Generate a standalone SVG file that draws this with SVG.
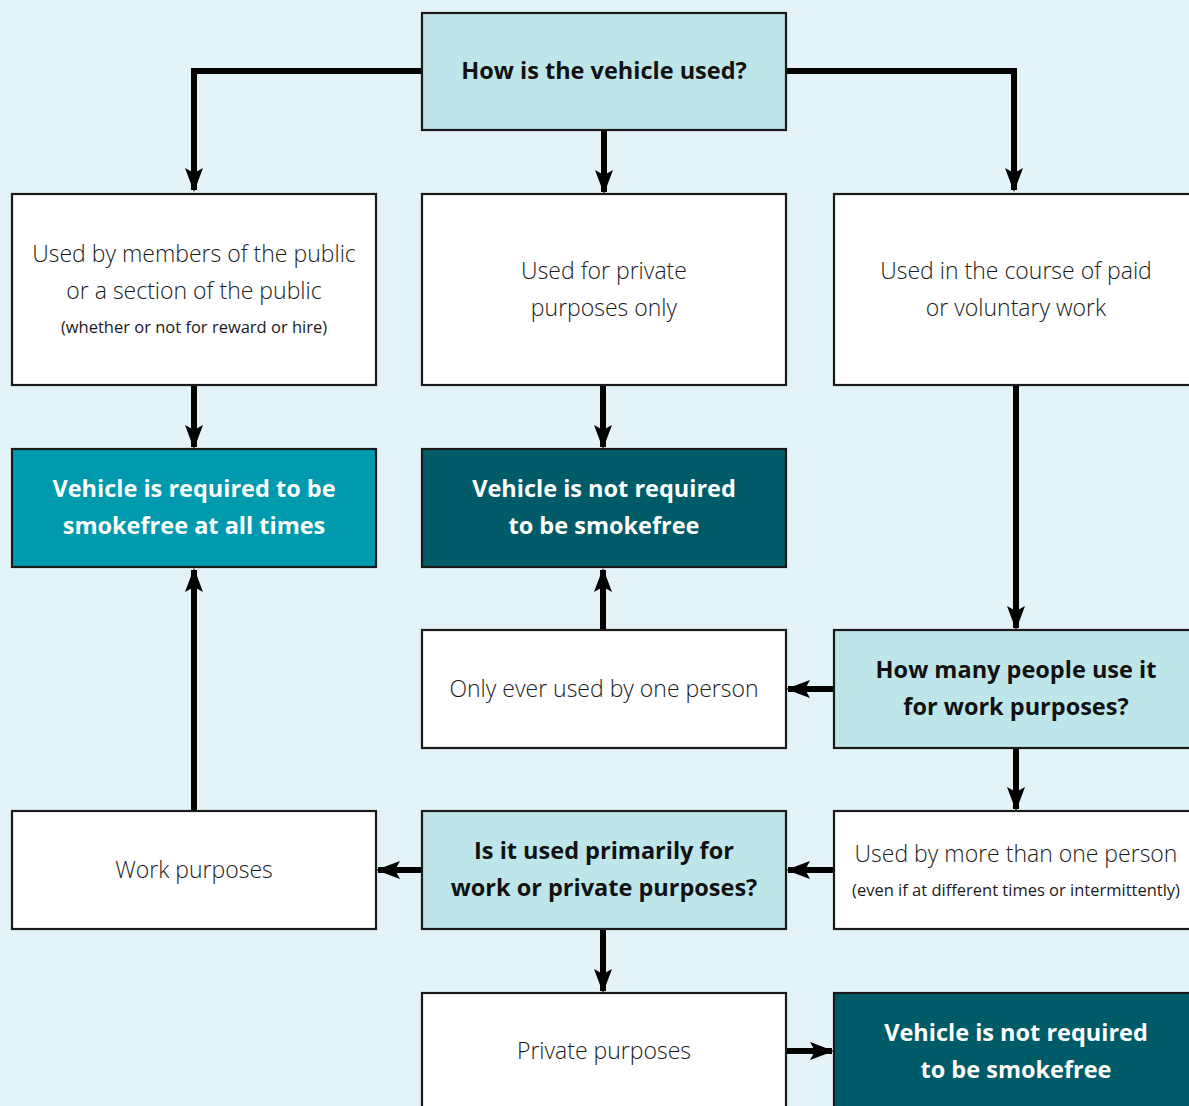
<svg xmlns="http://www.w3.org/2000/svg" width="1189" height="1106" viewBox="0 0 1189 1106">
<defs>
<marker id="ah" markerUnits="userSpaceOnUse" markerWidth="24" markerHeight="20" viewBox="0 0 24 20" refX="22" refY="10" orient="auto">
<path d="M0,1 L24,10 L0,19 L5,10 Z" fill="#000"/>
</marker>
<style>
.box{stroke:#1a1a1a;stroke-width:2.2}
.w{fill:#fff}
.q{fill:#bee5ea}
.t{fill:#009aae}
.d{fill:#005b68}
.c{fill:none;stroke:#000;stroke-width:6;marker-end:url(#ah)}
text{font-family:"Open Sans","Noto Sans","Liberation Sans",sans-serif;text-anchor:middle}
.l{font-size:23px;font-weight:300;fill:#1a1a1a}
.s{font-size:16.5px;font-weight:400;fill:#1a1a1a}
.b{font-size:23.5px;font-weight:700;fill:#111}
.bw{font-size:23.5px;font-weight:700;fill:#fff}
</style>
</defs>
<rect width="1189" height="1106" fill="#e4f3f8"/>
<g id="connectors">
<path class="c" d="M422,71 H194 V190"/>
<path class="c" d="M786,71 H1014 V190"/>
<path class="c" d="M604,130 V192"/>
<path class="c" d="M194,385 V447"/>
<path class="c" d="M603,385 V447"/>
<path class="c" d="M1016,385 V628"/>
<path class="c" d="M603,630 V570"/>
<path class="c" d="M194,811 V570"/>
<path class="c" d="M834,689 H788"/>
<path class="c" d="M1016,748 V809"/>
<path class="c" d="M834,870 H788"/>
<path class="c" d="M422,870 H378"/>
<path class="c" d="M603,929 V991"/>
<path class="c" d="M786,1051 H832"/>
</g>
<g id="n-how">
<rect class="box q" x="422" y="13" width="364" height="117"/>
<text class="b" x="604" y="79">How is the vehicle used?</text>
</g>
<g id="n-public">
<rect class="box w" x="12" y="194" width="364" height="191"/>
<text class="l" x="194" y="262">Used by members of the public</text>
<text class="l" x="194" y="299">or a section of the public</text>
<text class="s" x="194" y="333">(whether or not for reward or hire)</text>
</g>
<g id="n-private">
<rect class="box w" x="422" y="194" width="364" height="191"/>
<text class="l" x="604" y="279">Used for private</text>
<text class="l" x="604" y="316">purposes only</text>
</g>
<g id="n-work">
<rect class="box w" x="834" y="194" width="364" height="191"/>
<text class="l" x="1016" y="279">Used in the course of paid</text>
<text class="l" x="1016" y="316">or voluntary work</text>
</g>
<g id="n-required">
<rect class="box t" x="12" y="449" width="364" height="118"/>
<text class="bw" x="194" y="497">Vehicle is required to be</text>
<text class="bw" x="194" y="534">smokefree at all times</text>
</g>
<g id="n-notreq1">
<rect class="box d" x="422" y="449" width="364" height="118"/>
<text class="bw" x="604" y="497">Vehicle is not required</text>
<text class="bw" x="604" y="534">to be smokefree</text>
</g>
<g id="n-one">
<rect class="box w" x="422" y="630" width="364" height="118"/>
<text class="l" x="604" y="697">Only ever used by one person</text>
</g>
<g id="n-howmany">
<rect class="box q" x="834" y="630" width="364" height="118"/>
<text class="b" x="1016" y="678">How many people use it</text>
<text class="b" x="1016" y="715">for work purposes?</text>
</g>
<g id="n-workp">
<rect class="box w" x="12" y="811" width="364" height="118"/>
<text class="l" x="194" y="878">Work purposes</text>
</g>
<g id="n-primarily">
<rect class="box q" x="422" y="811" width="364" height="118"/>
<text class="b" x="604" y="859">Is it used primarily for</text>
<text class="b" x="604" y="896">work or private purposes?</text>
</g>
<g id="n-more">
<rect class="box w" x="834" y="811" width="364" height="118"/>
<text class="l" x="1016" y="862">Used by more than one person</text>
<text class="s" x="1016" y="896">(even if at different times or intermittently)</text>
</g>
<g id="n-privp">
<rect class="box w" x="422" y="993" width="364" height="130"/>
<text class="l" x="604" y="1059">Private purposes</text>
</g>
<g id="n-notreq2">
<rect class="box d" x="834" y="993" width="364" height="130"/>
<text class="bw" x="1016" y="1041">Vehicle is not required</text>
<text class="bw" x="1016" y="1078">to be smokefree</text>
</g>
</svg>
